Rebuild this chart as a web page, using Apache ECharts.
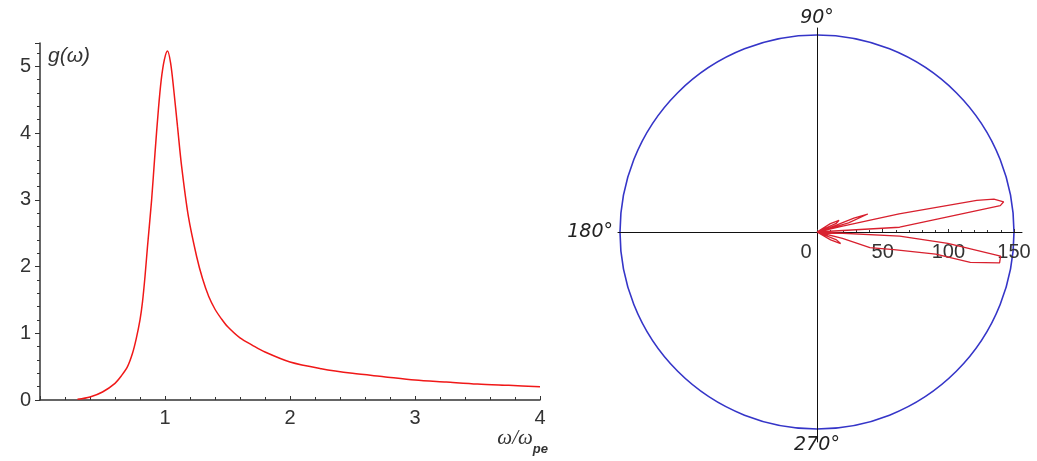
<!DOCTYPE html>
<html>
<head>
<meta charset="utf-8">
<script src="https://cdn.jsdelivr.net/npm/echarts@6/dist/echarts.min.js"></script>
<style>
  html, body { margin: 0; padding: 0; background: #fff; }
  #chart { width: 1037px; height: 461px; }
</style>
</head>
<body>
<div id="chart"></div>
<script>
// left plot: g(omega) against omega / omega_pe
var omegaX = [0.3, 0.4, 0.5, 0.6, 0.65, 0.7, 0.74, 0.77, 0.8, 0.82, 0.84, 0.86, 0.893, 0.92, 0.947, 0.97, 0.995, 1.02,
  1.045, 1.07, 1.1, 1.133, 1.187, 1.253, 1.3, 1.35, 1.4, 1.45, 1.5, 1.6, 1.7, 1.8, 2.0, 2.25, 2.5, 2.75, 3.0, 3.25, 3.5, 3.75, 4.0]
var gValues = [0.01, 0.045, 0.12, 0.25, 0.36, 0.5, 0.7, 0.92, 1.2, 1.47, 1.85, 2.3, 3.0, 3.7, 4.35, 4.8, 5.1, 5.23,
  5.05, 4.65, 4.1, 3.5, 2.75, 2.15, 1.82, 1.55, 1.36, 1.22, 1.1, 0.93, 0.82, 0.72, 0.57, 0.47, 0.4, 0.35, 0.3, 0.27, 0.24, 0.22, 0.2]
var xTicks = [0, 1, 2, 3, 4]
var yTicks = [0, 1, 2, 3, 4, 5]

// right plot: polar pattern, angle in degrees, radius in plot units
var lobeAngle = [0, 3.3, 6.7, 8.2, 9.2, 10.5, 11.2, 12.4, 12.8, 0,
  16, 19.5, 20.5, 18, 0,
  24, 28, 32, 0,
  -2.8, -5, -7.5, -9.6, -11.2, -10.6, -13, -16.4, -14, 0,
  -22, -26, -30, 0]
var lobeRadius = [0, 63, 102, 141, 144, 137, 124, 64, 20, 0,
  25, 41, 30, 10, 0,
  16, 19, 12, 0,
  63, 100, 141, 141, 119, 92, 60, 42, 20, 0,
  16, 20, 12, 0]
var radiusTicks = [0, 50, 100, 150]
var angleTicks = [90, 180, 270]

var chart = echarts.init(document.getElementById('chart'))

var curveData = omegaX.map(function (x, i) { return [x, gValues[i]] })
var lobeData = lobeAngle.map(function (a, i) { return [lobeRadius[i], (a + 360) % 360] })

var labelFont = { fontFamily: 'Liberation Sans', fontSize: 20, color: '#333' }

var option = {
  backgroundColor: '#fff',
  animation: false,
  grid: [
    { left: 40, top: 43, width: 500, height: 357 },
    // cross lines through the polar centre
    { left: 618, top: 28, width: 404, height: 414 }
  ],
  xAxis: [{
    gridIndex: 0,
    type: 'value',
    min: xTicks[0],
    max: xTicks[xTicks.length - 1],
    interval: 1,
    axisLine: { lineStyle: { color: '#333', width: 1.5 } },
    axisTick: { inside: true, length: 4, lineStyle: { color: '#333' } },
    minorTick: { show: true, splitNumber: 5, length: 3, lineStyle: { color: '#333' } },
    splitLine: { show: false },
    axisLabel: Object.assign({ showMinLabel: false, margin: 8 }, labelFont),
    name: '{a|ω/ω}{b|pe}',
    nameLocation: 'end',
    nameGap: 8,
    nameTextStyle: {
      align: 'right',
      verticalAlign: 'top',
      padding: [28, 0, 0, 0],
      rich: {
        a: { fontFamily: 'Liberation Serif', fontStyle: 'italic', fontSize: 21, color: '#333', lineHeight: 21, verticalAlign: 'top' },
        b: { fontFamily: 'Liberation Sans', fontStyle: 'italic', fontWeight: 'bold', fontSize: 13, color: '#333', lineHeight: 28, verticalAlign: 'bottom' }
      }
    }
  }, {
    gridIndex: 1,
    type: 'value',
    min: -199,
    max: 205,
    axisLine: { onZero: true, lineStyle: { color: '#111', width: 1 } },
    axisTick: { show: false },
    axisLabel: { show: false },
    splitLine: { show: false }
  }],
  yAxis: [{
    gridIndex: 0,
    type: 'value',
    min: yTicks[0],
    max: 5.35,
    interval: 1,
    axisLine: { show: true, lineStyle: { color: '#333', width: 1.5 } },
    axisTick: { show: true, length: 5, lineStyle: { color: '#333' } },
    minorTick: { show: true, splitNumber: 5, length: 3, lineStyle: { color: '#333' } },
    splitLine: { show: false },
    axisLabel: Object.assign({ showMaxLabel: false, margin: 9 }, labelFont),
    name: 'g(ω)',
    nameLocation: 'end',
    nameGap: -3,
    nameTextStyle: {
      align: 'left',
      verticalAlign: 'top',
      padding: [0, 0, 0, 8],
      fontFamily: 'Liberation Sans',
      fontStyle: 'italic',
      fontSize: 21,
      color: '#333'
    }
  }, {
    gridIndex: 1,
    type: 'value',
    min: -210,
    max: 204,
    axisLine: { onZero: true, lineStyle: { color: '#111', width: 1 } },
    axisTick: { show: false },
    axisLabel: { show: false },
    splitLine: { show: false }
  }],
  polar: {
    center: [817, 232],
    radius: 197
  },
  angleAxis: {
    type: 'value',
    min: 0,
    max: 360,
    interval: 90,
    startAngle: 0,
    clockwise: false,
    axisLine: { lineStyle: { color: '#3535c8', width: 1.6 } },
    axisTick: { show: false },
    splitLine: { show: false },
    axisLabel: {
      margin: 7,
      fontFamily: 'DejaVu Sans',
      fontStyle: 'italic',
      fontSize: 19,
      color: '#222',
      formatter: function (v) {
        return angleTicks.indexOf(v) >= 0 ? v + '°' : ''
      }
    }
  },
  radiusAxis: {
    type: 'value',
    min: radiusTicks[0],
    max: radiusTicks[radiusTicks.length - 1],
    interval: 50,
    axisLine: { show: false },
    axisTick: { show: true, length: 3, lineStyle: { color: '#333' } },
    minorTick: { show: true, splitNumber: 5, length: 2, lineStyle: { color: '#333' } },
    splitLine: { show: false },
    axisLabel: {
      // negative margin puts the labels under the axis line
      margin: -30,
      fontFamily: 'Liberation Sans',
      fontSize: 20,
      color: '#333',
      formatter: function (v) {
        return v === 0 ? '{z|0}' : String(v)
      },
      rich: {
        z: { fontFamily: 'Liberation Sans', fontSize: 20, color: '#333', padding: [0, 22, 0, 0] }
      }
    }
  },
  series: [
    {
      name: 'g',
      type: 'line',
      xAxisIndex: 0,
      yAxisIndex: 0,
      data: curveData,
      smooth: 0.3,
      showSymbol: false,
      lineStyle: { color: '#f01818', width: 1.5 },
      z: 3
    },
    {
      name: 'pattern',
      type: 'line',
      coordinateSystem: 'polar',
      data: lobeData,
      showSymbol: false,
      lineStyle: { color: '#d8202e', width: 1.3 },
      z: 3
    }
  ]
}

chart.setOption(option, true)
</script>
</body>
</html>
